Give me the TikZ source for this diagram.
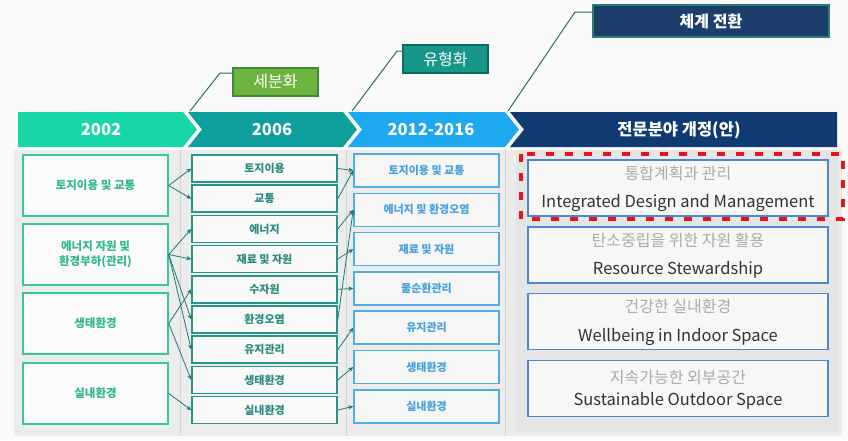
\documentclass[tikz,border=0pt]{standalone}
\usepackage{fontspec}
\setmainfont{Noto Sans CJK KR}
\usetikzlibrary{arrows.meta}
\definecolor{bgc}{HTML}{FAFAFA}
\definecolor{panelc}{HTML}{ECECEC}
\definecolor{rpanelc}{HTML}{E5E5E5}
\definecolor{sepc}{HTML}{D4D4D4}
\definecolor{band1}{HTML}{17D7A6}
\definecolor{band2}{HTML}{0E9E9B}
\definecolor{band3}{HTML}{1CA9EF}
\definecolor{band4}{HTML}{0F3A72}
\definecolor{c1line}{HTML}{35C89C}
\definecolor{c1text}{HTML}{30B68C}
\definecolor{c2line}{HTML}{27958A}
\definecolor{c2text}{HTML}{2A8A80}
\definecolor{c3line}{HTML}{4EADE6}
\definecolor{c3text}{HTML}{46A0DE}
\definecolor{rline}{HTML}{4A88D2}
\definecolor{rkor}{HTML}{ABABAB}
\definecolor{reng}{HTML}{333333}
\definecolor{arrc}{HTML}{1E7A6E}
\definecolor{leadc}{HTML}{2C6E60}
\definecolor{callg}{HTML}{6DB43F}
\definecolor{callgl}{HTML}{3E8A3A}
\definecolor{callt}{HTML}{17968A}
\definecolor{calltl}{HTML}{0F6B60}
\definecolor{calln}{HTML}{1C3E6D}
\definecolor{callnl}{HTML}{2E7D6E}
\definecolor{redc}{HTML}{E8141B}
\begin{document}
\begin{tikzpicture}[x=1pt,y=-1pt,
  hdr/.style={text=white,font=\fontsize{16.5}{18}\selectfont\bfseries,inner sep=0pt},
  c1box/.style={draw=c1line,fill=white!97!gray,line width=1.5pt,minimum width=145pt,minimum height=61pt,inner sep=0pt,text=c1text,font=\fontsize{11.5}{15}\selectfont\bfseries,align=center},
  c2box/.style={draw=c2line,fill=white!95!gray,line width=1.5pt,minimum width=145pt,minimum height=27pt,inner sep=0pt,text=c2text,font=\fontsize{11}{13}\selectfont\bfseries},
  c3box/.style={draw=c3line,fill=white!93!gray,line width=1.5pt,minimum width=145pt,minimum height=33pt,inner sep=0pt,text=c3text,font=\fontsize{11}{13}\selectfont\bfseries},
  rbox/.style={draw=rline,fill=white!94!gray,line width=1.5pt,minimum width=300pt,minimum height=56pt,inner sep=0pt},
  rkortext/.style={text=rkor,font=\fontsize{16}{18}\selectfont,inner sep=0pt},
  rengtext/.style={text=reng,font=\fontsize{16.5}{18}\selectfont,inner sep=0pt},
  conn/.style={draw=arrc,line width=0.8pt,-{Stealth[length=5pt,width=4.5pt]}},
  leader/.style={draw=leadc,line width=1pt},
  callout/.style={line width=1.2pt,text=white,font=\fontsize{16}{18}\selectfont,inner sep=0pt}
]
\useasboundingbox (0,0) rectangle (848,440);
\fill[bgc] (0,0) rectangle (848,440);
% panels
\fill[panelc] (14,150) rectangle (842,436);
\fill[rpanelc] (516,150) rectangle (838,432);
\foreach \xx in {180,346,505}{\draw[sepc,line width=0.8pt] (\xx,150) -- (\xx,436);}

% header chevrons
\fill[band1] (18,112) -- (183,112) -- (197,129.5) -- (183,147) -- (18,147) -- cycle;
\fill[band2] (188,112) -- (343,112) -- (357,129.5) -- (343,147) -- (188,147) -- (202,129.5) -- cycle;
\fill[band3] (348,112) -- (505,112) -- (519,129.5) -- (505,147) -- (348,147) -- (362,129.5) -- cycle;
\fill[band4] (510,112) -- (837,112) -- (837,147) -- (510,147) -- (524,129.5) -- cycle;
\node[hdr] (h1) at (101,130) {2002};
\node[hdr] (h2) at (272,130) {2006};
\node[hdr] (h3) at (431,130) {2012-2016};
\node[hdr] (h4) at (679,130) {전문분야 개정(안)};

% callouts
\node[callout,draw=callgl,fill=callg,minimum width=85pt,minimum height=28pt] (k1) at (275.5,82) {세분화};
\node[callout,draw=calltl,fill=callt,minimum width=85pt,minimum height=28pt] (k2) at (445.5,59) {유형화};
\node[callout,draw=callnl,fill=calln,minimum width=236pt,minimum height=32pt,font=\fontsize{16}{18}\selectfont\bfseries] (k3) at (711,21) {체계 전환};
\coordinate (s1) at (190,111);
\coordinate (b1) at (220,73);
\coordinate (s2) at (352,111);
\coordinate (b2) at (397,51);
\coordinate (s3) at (508,111);
\coordinate (b3) at (575,12);
\draw[leader] (s1) -- (b1) -- (k1.west |- b1);
\draw[leader] (s2) -- (b2) -- (k2.west |- b2);
\draw[leader] (s3) -- (b3) -- (k3.west |- b3);

% column 1
\node[c1box] (a1) at (95.5,185.5) {토지이용 및 교통};
\node[c1box] (a2) at (95.5,254.5) {에너지 자원 및\\환경부하(관리)};
\node[c1box] (a3) at (95.5,323.5) {생태환경};
\node[c1box] (a4) at (95.5,393.5) {실내환경};

% column 2
\node[c2box] (b21) at (264.5,168.5) {토지이용};
\node[c2box] (b22) at (264.5,198.7) {교통};
\node[c2box] (b23) at (264.5,228.9) {에너지};
\node[c2box] (b24) at (264.5,259.1) {재료 및 자원};
\node[c2box] (b25) at (264.5,289.3) {수자원};
\node[c2box] (b26) at (264.5,319.5) {환경오염};
\node[c2box] (b27) at (264.5,349.7) {유지관리};
\node[c2box] (b28) at (264.5,379.9) {생태환경};
\node[c2box] (b29) at (264.5,410.1) {실내환경};

% column 3
\node[c3box] (d1) at (426.5,170.5) {토지이용 및 교통};
\node[c3box] (d2) at (426.5,209.8) {에너지 및 환경오염};
\node[c3box] (d3) at (426.5,249.1) {재료 및 자원};
\node[c3box] (d4) at (426.5,288.4) {물순환관리};
\node[c3box] (d5) at (426.5,327.7) {유지관리};
\node[c3box] (d6) at (426.5,367.0) {생태환경};
\node[c3box] (d7) at (426.5,406.3) {실내환경};

% right panel
\node[rbox] (r1) at (678,188) {};
\node[rbox] (r2) at (678,255) {};
\node[rbox] (r3) at (678,321.5) {};
\node[rbox] (r4) at (678,388.5) {};
\node[rkortext] (r1k) at (678,173) {통합계획과 관리};
\node[rengtext] (r1e) at (678,203) {Integrated Design and Management};
\node[rkortext] (r2k) at (678,240) {탄소중립을 위한 자원 활용};
\node[rengtext] (r2e) at (678,270) {Resource Stewardship};
\node[rkortext] (r3k) at (678,306) {건강한 실내환경};
\node[rengtext] (r3e) at (678,337) {Wellbeing in Indoor Space};
\node[rkortext] (r4k) at (678,378) {지속가능한 외부공간};
\node[rengtext] (r4e) at (678,401) {Sustainable Outdoor Space};

% red dashed highlight
\draw[redc,line width=4pt,dash pattern=on 8pt off 11pt] (521,154) rectangle (843,219);

% connectors col1 -> col2
\draw[conn] (a1.east) -- (b21.west);
\draw[conn] (a1.east) -- (b22.west);
\draw[conn] (a2.east) -- (b23.west);
\draw[conn] (a2.east) -- (b24.west);
\draw[conn] (a2.east) -- (b26.west);
\draw[conn] (a2.east) -- (b27.west);
\draw[conn] (a3.east) -- (b25.west);
\draw[conn] (a3.east) -- (b28.west);
\draw[conn] (a4.east) -- (b29.west);

% connectors col2 -> col3
\draw[conn] (b21.east) -- (d1.west);
\draw[conn] (b22.east) -- (d1.west);
\draw[conn] (b23.east) -- (d2.west);
\draw[conn] (b26.east) -- (d2.west);
\draw[conn] (b24.east) -- (d3.west);
\draw[conn] (b25.east) -- (d4.west);
\draw[conn] (b27.east) -- (d5.west);
\draw[conn] (b28.east) -- (d6.west);
\draw[conn] (b29.east) -- (d7.west);
\end{tikzpicture}
\end{document}
